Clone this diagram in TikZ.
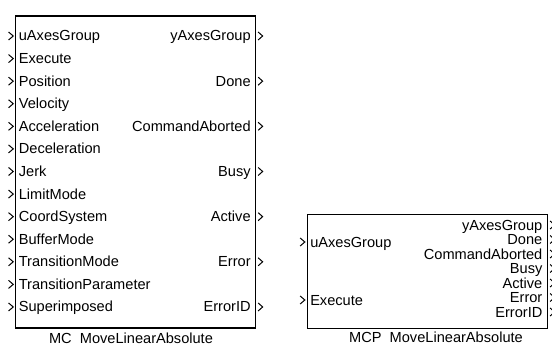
\documentclass[tikz,border=0pt]{standalone}
\usepackage{fontspec}
\setmainfont{Liberation Sans}
\begin{document}
\begin{tikzpicture}[x=1pt,y=-1pt,
  block/.style={draw=black, line width=1.3pt, fill=white, inner sep=0pt},
  port/.style={draw=black, line width=1pt},
  lbl/.style={inner sep=0pt, font=\fontsize{14.6}{16}\selectfont},
  inlbl/.style={lbl, anchor=base west},
  outlbl/.style={lbl, anchor=base east},
  title/.style={lbl, anchor=base}]
\useasboundingbox (0,0) rectangle (552,345);

% input chevron just left of a block edge, output chevron just right of it
\newcommand\portin[1]{\draw[port] ([shift={(-6.5,-4)}]#1) -- ([shift={(-1.8,0)}]#1) -- ([shift={(-6.5,4)}]#1);}
\newcommand\portout[1]{\draw[port] ([shift={(1.8,-4)}]#1) -- ([shift={(6.3,0)}]#1) -- ([shift={(1.8,4)}]#1);}

% ---------------- MC_MoveLinearAbsolute ----------------
\node[block, minimum width=240pt, minimum height=312pt] (mc) at (135.7,172) {};
\foreach \name [count=\i from 0] in {uAxesGroup,Execute,Position,Velocity,Acceleration,Deceleration,Jerk,LimitMode,CoordSystem,BufferMode,TransitionMode,TransitionParameter,Superimposed}{
  \coordinate (mcin\i) at (mc.west |- 0,{36+22.58*\i});
  \portin{mcin\i}
  \node[inlbl] (mcinl\i) at ([shift={(3.6,5)}]mcin\i) {\name};
}
\foreach \name [count=\i from 0] in {yAxesGroup,Done,CommandAborted,Busy,Active,Error,ErrorID}{
  \coordinate (mcout\i) at (mc.east |- 0,{36+45.16*\i});
  \portout{mcout\i}
  \node[outlbl] (mcoutl\i) at ([shift={(-5.5,5)}]mcout\i) {\name};
}
\node[title] (mctitle) at (131,343) {MC\ \ MoveLinearAbsolute};

% ---------------- MCP_MoveLinearAbsolute ----------------
\node[block, minimum width=240.4pt, minimum height=114pt] (mcp) at (427.5,271.3) {};
\coordinate (mcpin0) at (mcp.west |- 0,242);
\coordinate (mcpin1) at (mcp.west |- 0,300);
\portin{mcpin0}
\portin{mcpin1}
\node[inlbl] (mcpinl0) at ([shift={(3.4,5)}]mcpin0) {uAxesGroup};
\node[inlbl] (mcpinl1) at ([shift={(3.4,5)}]mcpin1) {Execute};
\foreach \name [count=\i from 0] in {yAxesGroup,Done,CommandAborted,Busy,Active,Error,ErrorID}{
  \coordinate (mcpout\i) at (mcp.east |- 0,{225+14.5*\i});
  \portout{mcpout\i}
  \node[outlbl] (mcpoutl\i) at ([shift={(-5.8,5)}]mcpout\i) {\name};
}
\node[title] (mcptitle) at (436,342.5) {MCP\ \ MoveLinearAbsolute};
\end{tikzpicture}
\end{document}
